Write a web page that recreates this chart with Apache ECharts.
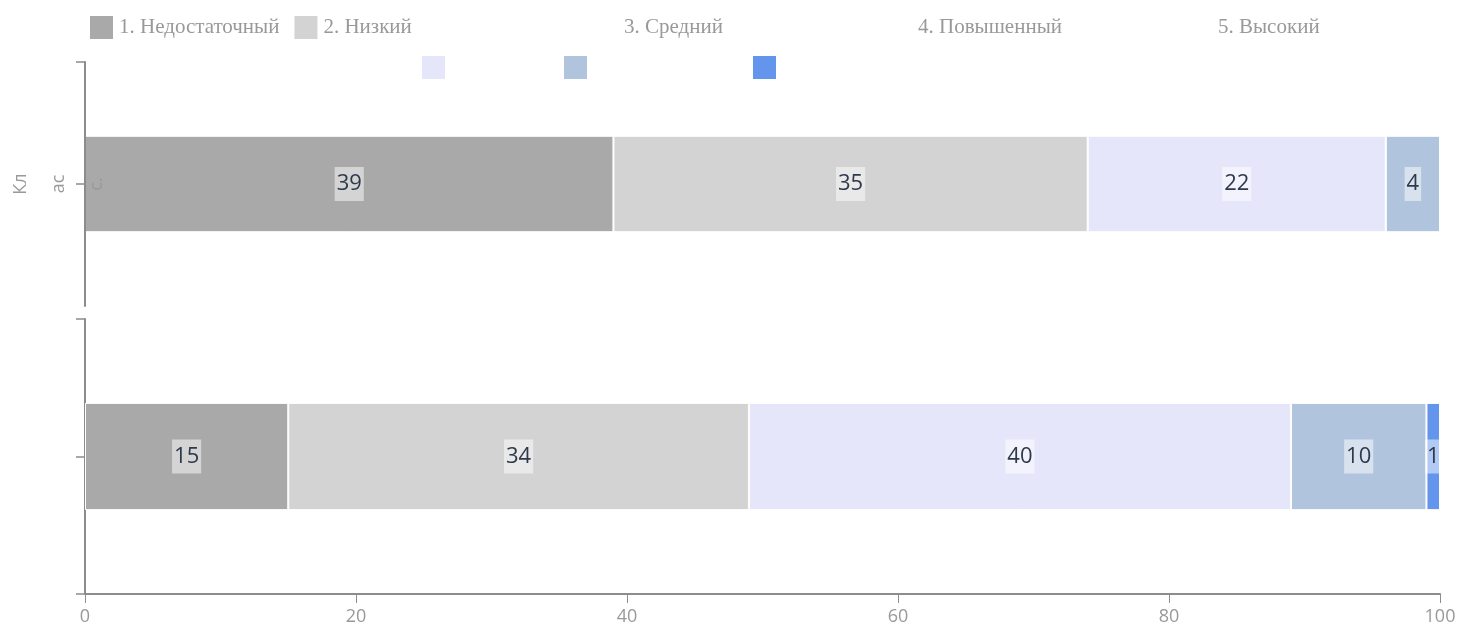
<!DOCTYPE html>
<html>
<head>
<meta charset="utf-8">
<script src="https://cdn.jsdelivr.net/npm/echarts@6/dist/echarts.min.js"></script>
<style>
html,body{margin:0;padding:0;background:#fff;}
#chart{width:1459px;height:632px;}
</style>
</head>
<body>
<div id="chart"></div>
<script>
// ---- data ----
var levels = ['1. Недостаточный', '2. Низкий', '3. Средний', '4. Повышенный', '5. Высокий'];
var colors = ['#a9a9a9', '#d3d3d3', '#e6e6fa', '#b0c4de', '#6495ed'];
var topCategories = ['Класс.'];
var bottomCategories = [''];
var topValues = [39, 35, 22, 4, 0];
var bottomValues = [15, 34, 40, 10, 1];
var xTicks = [0, 20, 40, 60, 80, 100];

var chart = echarts.init(document.getElementById('chart'));
var axisGrey = '#8c8c8c';
var legendText = { color: '#999', fontFamily: '"Liberation Serif","DejaVu Serif",serif', fontSize: 21 };

function makeSeries(values, gridIdx, barWidth) {
  return levels.map(function (name, i) {
    var v = values[i];
    return {
      name: name,
      type: 'bar',
      stack: 'g' + gridIdx,
      xAxisIndex: gridIdx,
      yAxisIndex: gridIdx,
      barWidth: barWidth,
      itemStyle: { color: colors[i], borderColor: '#fff', borderWidth: 1 },
      label: {
        show: v > 0,
        position: 'inside',
        color: '#2e3a4c',
        fontFamily: '"Open Sans","Noto Sans",sans-serif',
        fontSize: 22,
        lineHeight: 28,
        padding: [3, 2],
        backgroundColor: 'rgba(255,255,255,0.5)'
      },
      data: [v]
    };
  });
}

var legends = [
  {
    left: 83, top: 9, itemWidth: 25, itemHeight: 25, itemGap: 13,
    icon: 'rect', data: [levels[0], levels[1]], textStyle: legendText
  }
];
var textLefts = [588, 882, 1182];
var iconLefts = [415, 557, 746];
[2, 3, 4].forEach(function (k, j) {
  legends.push({
    left: textLefts[j], top: 9, itemWidth: 25, itemHeight: 25,
    icon: 'rect', data: [levels[k]], itemStyle: { opacity: 0 }, textStyle: legendText
  });
  legends.push({
    left: iconLefts[j], top: 49, itemWidth: 25, itemHeight: 25,
    icon: 'rect', data: [levels[k]], formatter: function () { return ''; }, textStyle: legendText
  });
});

function tickAxis(gridIndex, values) {
  return {
    gridIndex: gridIndex, type: 'value', min: 0, max: 1, position: 'left', offset: 0,
    axisLine: { show: false }, splitLine: { show: false }, axisLabel: { show: false },
    axisTick: { show: true, length: 9, customValues: values, lineStyle: { color: axisGrey, width: 1.5 } }
  };
}

// wrap a category name into 2-character lines (as the narrow rotated label does)
function wrapLabel(s) {
  var out = [];
  for (var i = 0; i < s.length; i += 2) out.push(s.slice(i, i + 2));
  return out.join('\n');
}

var option = {
  animation: false,
  color: colors,
  legend: legends,
  grid: [
    { left: 85, right: 19, top: 62, height: 244, containLabel: false, outerBoundsMode: 'none' },
    { left: 85, right: 19, top: 319, height: 275, containLabel: false, outerBoundsMode: 'none' }
  ],
  xAxis: [
    { gridIndex: 0, type: 'value', min: 0, max: 100, interval: 20, show: false },
    {
      gridIndex: 1, type: 'value', min: xTicks[0], max: xTicks[xTicks.length - 1], interval: 20,
      splitLine: { show: false },
      axisLine: { show: true, lineStyle: { color: axisGrey, width: 2 } },
      axisTick: { show: true, length: 9, lineStyle: { color: axisGrey, width: 1 } },
      axisLabel: { color: '#999', fontSize: 18, margin: 14, fontFamily: '"Open Sans","Noto Sans",sans-serif' }
    }
  ],
  yAxis: [
    {
      gridIndex: 0, type: 'category', data: topCategories, z: 5, offset: 0,
      axisLine: { show: true, lineStyle: { color: axisGrey, width: 2 } },
      axisTick: { show: false },
      axisLabel: {
        rotate: 90, color: '#999', fontSize: 18, lineHeight: 38,
        margin: -31, fontFamily: '"Open Sans","Noto Sans",sans-serif',
        formatter: wrapLabel
      }
    },
    {
      gridIndex: 1, type: 'category', data: bottomCategories, offset: 0,
      axisLine: { show: true, lineStyle: { color: axisGrey, width: 2 } },
      axisTick: { show: false },
      axisLabel: { show: false }
    },
    tickAxis(0, [0.5, 1]),
    tickAxis(1, [0, 0.5, 1])
  ],
  series: makeSeries(topValues, 0, '39.5%').concat(makeSeries(bottomValues, 1, '39%'))
};
chart.setOption(option);
</script>
</body>
</html>
